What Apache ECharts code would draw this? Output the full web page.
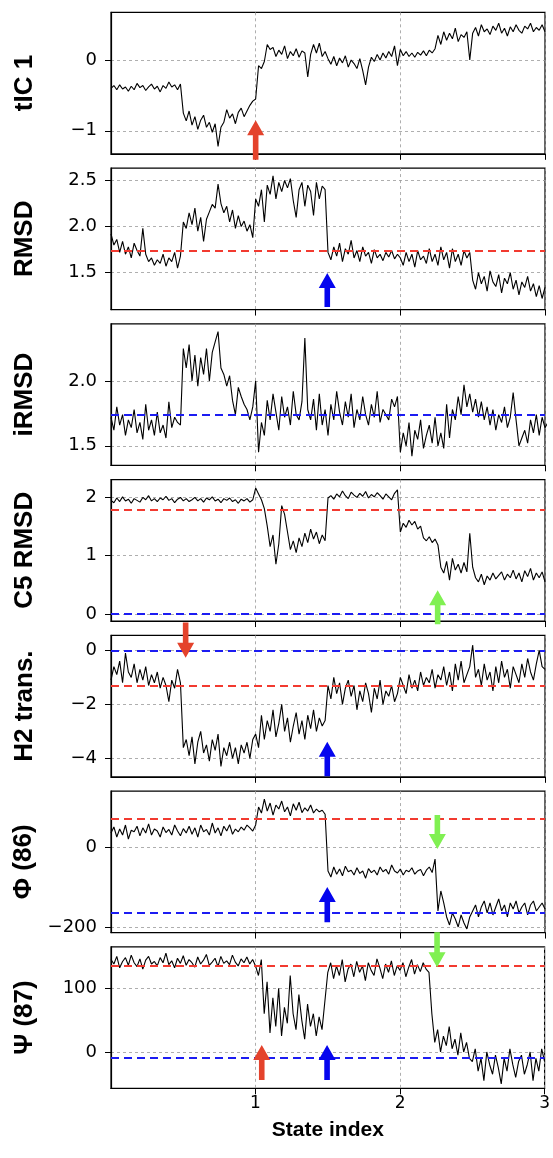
<!DOCTYPE html>
<html>
<head>
<meta charset="utf-8">
<script src="https://cdn.jsdelivr.net/npm/echarts@6/dist/echarts.min.js"></script>
<style>
html,body{margin:0;padding:0;background:#fff;}
#c{width:553px;height:1158px;}
</style>
</head>
<body>
<div id="c"></div>
<script>
// ---------------- data ----------------
const SAMPLE_STEP = 0.02; // state-index spacing of the samples
const panelNames = ['tIC 1', 'RMSD', 'iRMSD', 'C5 RMSD', 'H2 trans.', 'Φ (86)', 'Ψ (87)'];
const yMin = [-1.325, 1.10, 1.35, -0.119, -4.68, -214, -57];
const yMax = [0.675, 2.635, 2.44, 2.295, 0.558, 140, 165];
const yTicks = [[-1, 0], [1.5, 2.0, 2.5], [1.5, 2.0], [0, 1, 2], [-4, -2, 0], [-200, 0], [0, 100]];
const yDecimals = [0, 1, 1, 0, 0, 0, 0];
const xTicks = [1, 2, 3];
const refRed = [null, 1.743, null, 1.78, -1.30, 70, 134.5];
const refBlue = [null, null, 1.737, 0, 0, -164, -9.4];

const tic1 = [
 -0.40,-0.36,-0.42,-0.35,-0.41,-0.38,-0.44,-0.37,-0.42,-0.33,
 -0.39,-0.36,-0.43,-0.38,-0.34,-0.41,-0.37,-0.45,-0.36,-0.40,
 -0.31,-0.38,-0.35,-0.42,-0.34,
 -0.75,-0.86,-0.72,-0.92,-0.80,-0.98,-0.85,-0.78,-0.95,-0.88,-1.02,-0.90,
 -1.22,-0.95,
 -0.88,-0.70,-0.82,-0.76,-0.90,-0.74,-0.68,-0.80,-0.72,-0.64,-0.58,
 -0.55,-0.08,-0.12,-0.02,0.22,0.15,
 0.18,0.05,0.14,0.08,0.20,0.02,0.12,0.06,0.16,0.04,0.13,0.10,-0.24,0.08,0.22,0.10,0.24,0.05,0.12,
 0.02,-0.06,0.05,-0.08,0.03,-0.04,0.06,-0.10,0.00,-0.05,-0.12,0.02,-0.15,-0.35,-0.10,0.04,-0.02,0.08,0.00,0.10,0.03,0.12,0.05,0.20,-0.08,
 0.15,0.06,0.12,0.05,0.10,0.04,0.11,0.07,0.13,0.06,0.14,0.10,0.16,
 0.35,0.22,0.40,0.28,0.38,0.30,0.45,0.26,0.36,0.32,0.40,0.00,
 0.38,0.46,0.34,0.50,0.40,0.44,0.36,0.48,0.42,0.52,0.38,0.45,0.34,0.47,0.40,0.50,0.42,0.38,0.48,0.44,0.52,0.40,0.46,0.42,0.50,0.40
];
const rmsd = [
 1.92,1.80,1.86,1.72,1.84,1.70,1.78,1.66,1.82,1.74,1.68,1.98,1.70,1.62,1.66,1.58,1.64,1.60,1.70,1.57,1.66,1.62,1.72,1.55,1.68,
 2.05,1.98,2.15,2.02,2.20,1.95,2.10,1.84,2.08,2.16,2.24,2.20,2.46,
 2.25,2.15,2.22,2.05,2.18,1.98,2.12,2.00,2.06,1.95,2.02,1.88,
 2.30,2.22,2.40,2.05,2.45,2.35,2.55,2.30,2.48,2.38,2.50,2.42,2.52,2.28,2.10,2.40,2.48,2.22,2.45,2.38,2.12,2.48,2.30,2.44,2.40,
 1.72,1.64,1.78,1.68,1.82,1.62,1.76,1.70,1.85,1.66,1.74,1.62,1.78,1.68,1.72,1.60,1.75,1.66,1.70,1.63,1.72,1.67,1.74,1.65,1.70,
 1.66,1.58,1.72,1.62,1.70,1.56,1.74,1.64,1.68,1.60,1.76,1.62,1.70,1.58,1.78,1.64,1.72,1.55,1.76,1.62,1.70,1.58,1.74,1.66,1.72,
 1.42,1.32,1.50,1.38,1.46,1.30,1.52,1.40,1.35,1.48,1.28,1.44,1.38,1.50,1.32,1.42,1.26,1.40,1.34,1.46,1.30,1.38,1.24,1.36,1.22,1.34
];
const irmsd = [
 1.72,1.62,1.80,1.66,1.74,1.58,1.70,1.64,1.78,1.60,1.68,1.55,1.82,1.62,1.70,1.58,1.76,1.60,1.66,1.56,1.84,1.64,1.72,1.68,1.66,
 2.25,2.10,2.28,2.00,2.20,1.96,2.18,2.05,2.25,2.00,2.22,2.30,2.38,
 2.10,2.05,1.96,2.04,1.85,1.74,1.95,1.88,1.82,1.78,1.70,1.80,
 2.00,1.45,1.68,1.58,1.85,1.70,1.90,1.76,1.62,1.88,1.72,1.80,1.66,1.92,1.74,1.70,1.84,2.33,1.78,1.70,1.86,1.62,1.90,1.66,1.78,
 1.58,1.82,1.70,1.92,1.76,1.66,1.84,1.72,1.90,1.64,1.78,1.70,1.88,1.74,1.66,1.82,1.72,1.92,1.68,1.78,1.74,1.70,1.86,1.80,1.88,
 1.45,1.60,1.50,1.68,1.42,1.62,1.55,1.70,1.48,1.58,1.66,1.52,1.72,1.50,1.60,1.48,1.82,1.56,
 1.78,1.70,1.88,1.74,1.97,1.80,1.90,1.76,1.86,1.72,1.84,1.70,1.80,
 1.66,1.78,1.62,1.74,1.68,1.80,1.64,1.72,1.91,1.70,1.50,1.56,1.62,1.52,1.70,1.60,1.74,1.58,1.72,1.64,1.68
];
const c5rmsd = [
 1.94,1.90,1.98,1.92,2.00,1.93,1.96,1.89,1.97,1.94,
 1.91,1.99,1.95,2.02,1.93,1.97,1.92,1.98,1.95,2.01,
 1.94,1.97,1.90,1.96,1.99,1.93,1.97,1.92,1.95,1.99,
 1.93,1.97,1.91,1.98,1.95,2.00,1.93,1.96,1.90,1.97,
 1.94,1.98,1.92,1.95,1.89,1.96,1.93,1.97,1.91,1.95,
 2.15,2.05,1.95,1.80,1.50,1.15,1.35,0.85,1.20,1.85,1.70,1.40,1.10,1.25,1.05,1.30,1.15,1.38,1.22,1.45,1.28,1.40,1.20,1.35,1.25,
 1.98,2.02,1.96,2.05,2.00,2.10,2.02,1.97,2.08,2.03,1.99,2.06,2.01,2.09,1.98,2.04,2.00,2.07,2.02,1.96,2.05,2.00,1.95,2.06,2.12,
 1.40,1.55,1.48,1.60,1.52,1.58,1.45,1.50,1.30,1.25,1.32,1.22,1.28,1.18,
 0.80,0.70,0.90,0.58,0.95,0.75,0.85,0.70,0.88,0.72,1.38,
 0.80,0.62,0.55,0.68,0.50,0.65,0.58,0.70,0.60,0.66,0.72,0.58,0.68,0.62,0.75,0.60,0.70,0.55,0.74,0.64,0.78,0.58,0.70,0.62,0.72,0.55
];
const h2trans = [
 -1.1,-0.6,-0.9,-0.4,-1.2,-0.1,-0.8,-1.0,-0.5,-1.2,-0.7,-1.1,-0.6,-1.3,-0.9,-1.2,-0.8,-1.4,-1.0,-1.3,-1.9,-1.1,-1.4,-0.7,-1.2,
 -3.6,-3.3,-3.9,-3.2,-4.2,-3.4,-3.0,-3.8,-3.5,-4.1,-3.3,-3.7,-3.1,-4.3,-3.6,-3.9,-3.4,-4.0,-3.6,-4.2,-3.5,-3.8,-3.4,-4.0,-3.3,
 -3.1,-3.6,-2.4,-3.3,-2.6,-3.0,-2.2,-3.2,-2.7,-2.0,-3.0,-2.5,-3.4,-2.8,-2.3,-3.1,-2.6,-3.3,-2.4,-2.9,-2.2,-3.0,-2.5,-2.8,-2.6,
 -1.3,-1.8,-1.0,-1.6,-1.2,-2.0,-1.4,-1.1,-1.7,-1.3,-2.2,-1.5,-1.9,-1.2,-1.6,-2.3,-1.4,-1.8,-1.1,-2.0,-1.5,-1.7,-1.3,-1.9,-1.6,
 -1.0,-1.3,-1.6,-0.9,-1.4,-1.1,-1.5,-0.8,-1.3,-1.0,-1.2,-0.7,-1.4,-0.9,-1.1,-0.6,-1.3,-0.8,-1.5,-0.5,-1.1,-0.4,-1.2,-0.9,-0.6,
 0.2,-1.0,-0.7,-1.3,-0.5,-1.1,-0.8,-1.5,-0.6,-1.2,-0.4,-1.0,-0.7,-1.4,-0.6,-0.9,-1.2,-0.5,-1.0,-0.3,-0.8,-1.1,-0.5,0.0,-0.6,-0.7
];
const phi86 = [
 35,50,25,45,30,55,20,42,38,52,28,48,35,58,30,45,40,25,50,36,44,30,55,40,28,
 46,35,52,32,48,25,55,38,44,30,60,35,48,28,52,40,56,32,45,38,50,42,55,48,40,
 55,100,85,120,90,110,80,105,95,115,88,100,78,108,92,112,86,98,90,105,85,95,88,92,82,
 -60,-75,-50,-68,-55,-72,-48,-62,-58,-70,-52,-66,-60,-78,-54,-64,-58,-70,-50,-62,-56,-68,-45,-60,-65,
 -55,-70,-58,-62,-52,-68,-60,-56,-72,-58,-50,-64,-30,
 -160,-110,-140,-175,-195,-165,-180,-200,-170,-190,-205,-175,
 -160,-145,-175,-150,-135,-165,-140,-170,-150,-130,-160,-145,-175,-140,-155,-135,-165,-150,-140,-170,-145,-135,-160,-150,-140,-155
];
const psi87 = [
 145,138,150,132,142,148,136,152,140,134,146,130,144,150,138,142,135,148,140,155,137,143,132,147,139,
 151,136,145,140,133,149,138,144,153,136,141,147,134,150,139,143,137,152,141,135,146,140,149,138,145,
 135,120,145,60,110,30,85,40,100,25,70,45,120,60,35,90,50,20,75,40,60,25,55,35,80,
 125,140,115,135,120,145,110,130,138,118,142,125,135,112,140,128,120,146,132,115,138,125,143,120,135,
 128,140,118,133,145,122,137,126,140,130,
 125,60,15,35,0,25,10,40,5,20,-5,30,0,15,-10,
 -15,5,-30,-10,-45,0,-20,-35,-5,-25,-50,-10,-30,5,-20,-40,-15,-5,-35,-20,0,-45,-10,-30,5,-15
];
const seriesValues = [tic1, rmsd, irmsd, c5rmsd, h2trans, phi86, psi87];

// arrows: panel, x, tail value, tip value, colour key
const arrowPanel = [0, 1, 3, 4, 4, 5, 5, 6, 6, 6];
const arrowX     = [1.0, 1.495, 2.258, 0.516, 1.495, 2.256, 1.495, 2.256, 1.043, 1.495];
const arrowTail  = [-1.41, 1.127, -0.175, 1.03, -4.66, 80, -188, 188, -44, -44];
const arrowTip   = [-0.85, 1.497, 0.407, -0.27, -3.38, -5, -100, 133, 11, 11];
const arrowColor = ['red', 'blue', 'green', 'red', 'blue', 'green', 'blue', 'green', 'red', 'blue'];
const arrowPalette = { red: '#e4432c', blue: '#0505ee', green: '#80f052' };

// ---------------- layout ----------------
const GRID_LEFT = 111, GRID_RIGHT = 8, GRID_TOP0 = 12.3, GRID_STEP = 155.75, GRID_H = 141.5;
const N = panelNames.length;
const fmtNum = (v, d) => v.toFixed(d).replace('-', '\u2212');

const grids = [], xAxes = [], yAxes = [], series = [];
for (let i = 0; i < N; i++) {
  grids.push({
    left: GRID_LEFT, right: GRID_RIGHT, top: GRID_TOP0 + GRID_STEP * i, height: GRID_H,
    show: true, borderColor: '#000', borderWidth: 1.2, containLabel: false
  });
  const last = i === N - 1;
  xAxes.push({
    gridIndex: i, type: 'value', min: 0, max: 3, interval: 1,
    name: last ? 'State index' : '', nameLocation: 'middle', nameGap: 31,
    nameTextStyle: { fontFamily: 'Liberation Sans', fontWeight: 'bold', fontSize: 21, color: '#000' },
    axisLine: { show: true, onZero: false, lineStyle: { color: '#000', width: 1.2 } },
    axisTick: { show: true, length: 6, customValues: xTicks, lineStyle: { color: '#000', width: 1 } },
    axisLabel: { show: last, customValues: xTicks, fontFamily: 'DejaVu Sans', fontSize: 17, color: '#000', margin: 7 },
    splitLine: { show: true, lineStyle: { color: '#9a9a9a', width: 0.8, type: [3, 3] } }
  });
  yAxes.push({
    gridIndex: i, type: 'value', min: yMin[i], max: yMax[i], splitNumber: yTicks[i].length === 3 ? 3 : 2,
    name: panelNames[i], nameLocation: 'middle', nameGap: 73, nameRotate: 90,
    nameTextStyle: { fontFamily: 'Liberation Sans', fontWeight: 'bold', fontSize: 26, color: '#000' },
    axisLine: { show: true, onZero: false, lineStyle: { color: '#000', width: 1.2 } },
    axisTick: { show: true, length: 6, customValues: yTicks[i], lineStyle: { color: '#000', width: 1 } },
    axisLabel: { customValues: yTicks[i], fontFamily: 'DejaVu Sans', fontSize: 18, color: '#000', margin: 14,
      formatter: v => fmtNum(v, yDecimals[i]) },
    splitLine: { show: true, lineStyle: { color: '#9a9a9a', width: 0.8, type: [3, 3] } }
  });
  const mlData = [];
  if (refRed[i] !== null) mlData.push({ yAxis: refRed[i], lineStyle: { color: '#f23a30' } });
  if (refBlue[i] !== null) mlData.push({ yAxis: refBlue[i], lineStyle: { color: '#1c1cf2' } });
  series.push({
    type: 'line', xAxisIndex: i, yAxisIndex: i, showSymbol: false, symbol: 'none',
    data: seriesValues[i].map((v, k) => [k * SAMPLE_STEP, v]),
    lineStyle: { color: '#000', width: 1.1 }, z: 3,
    markLine: { silent: true, symbol: 'none', label: { show: false },
      lineStyle: { type: [8, 5], width: 1.8 }, data: mlData, z: 4 }
  });
}

const chart = echarts.init(document.getElementById('c'), null, { renderer: 'canvas' });
chart.setOption({ animation: false, backgroundColor: '#fff', grid: grids, xAxis: xAxes, yAxis: yAxes, series: series });

// arrows positioned through the axes' own scales
const SHAFT = 2.8, HEAD_W = 8.5, HEAD_L = 15;
const arrowGraphics = arrowPanel.map((p, k) => {
  const tail = chart.convertToPixel({ gridIndex: p }, [arrowX[k], arrowTail[k]]);
  const tip = chart.convertToPixel({ gridIndex: p }, [arrowX[k], arrowTip[k]]);
  const x = tip[0], ty = tip[1], by = tail[1];
  const dir = by > ty ? 1 : -1; // 1: pointing up
  const hb = ty + dir * HEAD_L;
  return {
    type: 'polygon', z: 100,
    shape: { points: [[x - SHAFT, by], [x - SHAFT, hb], [x - HEAD_W, hb], [x, ty], [x + HEAD_W, hb], [x + SHAFT, hb], [x + SHAFT, by]] },
    style: { fill: arrowPalette[arrowColor[k]], stroke: null }
  };
});
chart.setOption({ graphic: arrowGraphics });
</script>
</body>
</html>
